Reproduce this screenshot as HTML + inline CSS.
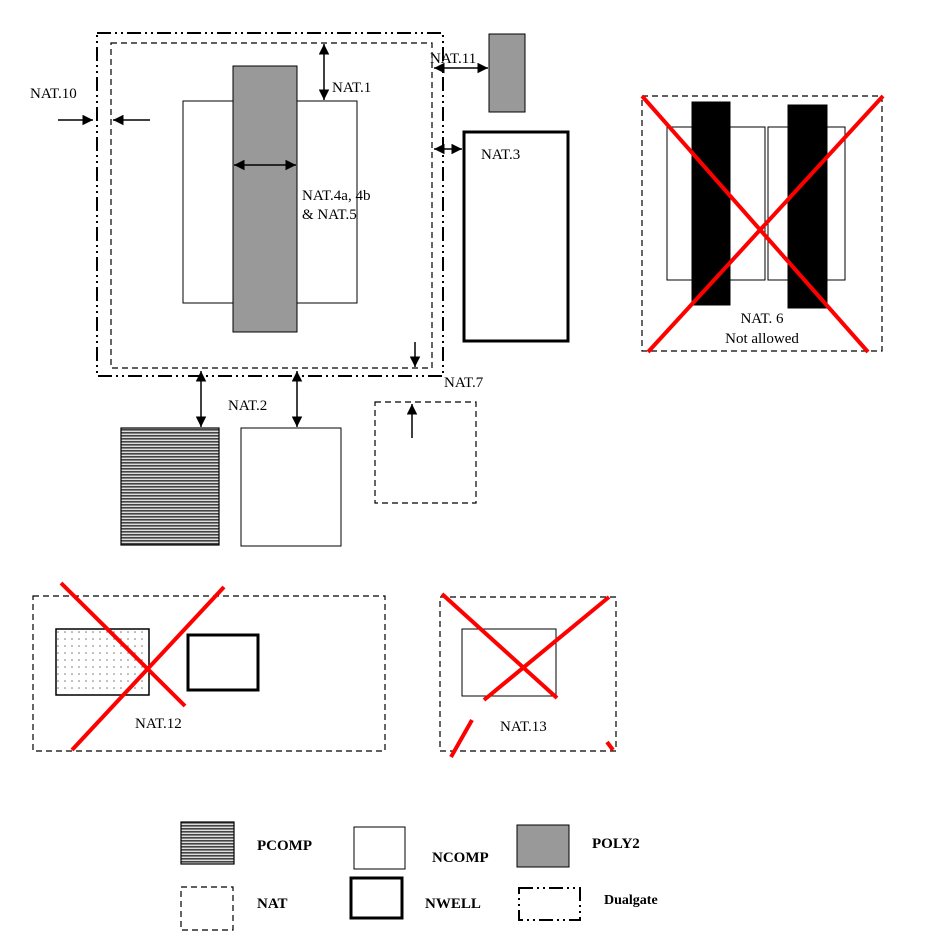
<!DOCTYPE html>
<html><head><meta charset="utf-8"><style>html,body{margin:0;padding:0;background:#fff}svg{display:block}text{font-family:"Liberation Serif",serif;font-size:15px;fill:#000}.b{font-weight:bold;font-size:15px}</style></head><body>
<svg width="942" height="943" viewBox="0 0 942 943" xmlns="http://www.w3.org/2000/svg">
<defs>
<marker id="a" viewBox="0 0 10 10" refX="10" refY="5" markerWidth="7" markerHeight="7" orient="auto-start-reverse"><path d="M0,0L10,5L0,10z" fill="#000"/></marker>
<pattern id="h" width="4" height="3" patternUnits="userSpaceOnUse"><rect width="4" height="3" fill="#ddd"/><rect width="4" height="1.6" fill="#444"/></pattern>
<pattern id="d" width="7" height="7" patternUnits="userSpaceOnUse"><rect width="7" height="7" fill="#fff"/><circle cx="2" cy="2" r="0.8" fill="#777"/></pattern>
</defs>
<g fill="none" stroke="#000">
<rect x="97" y="33" width="346" height="343" stroke-width="2" stroke-dasharray="14,4,2,4,2,4"/>
<rect x="111" y="43" width="321" height="325" stroke-width="1.2" stroke-dasharray="6,4"/>
<rect x="183" y="101" width="174" height="202" fill="#fff"/>
<rect x="233" y="66" width="64" height="266" fill="#999"/>
<line x1="324" y1="44" x2="324" y2="100" stroke-width="1.5" marker-start="url(#a)" marker-end="url(#a)"/>
<line x1="234" y1="165" x2="296" y2="165" stroke-width="1.5" marker-start="url(#a)" marker-end="url(#a)"/>
<line x1="58" y1="120" x2="93" y2="120" stroke-width="1.5" marker-end="url(#a)"/>
<line x1="150" y1="120" x2="113" y2="120" stroke-width="1.5" marker-end="url(#a)"/>
<rect x="489" y="34" width="36" height="78" fill="#999"/>
<line x1="434" y1="68" x2="488" y2="68" stroke-width="1.5" marker-start="url(#a)" marker-end="url(#a)"/>
<rect x="464" y="132" width="104" height="209" stroke-width="3"/>
<line x1="434" y1="149" x2="462" y2="149" stroke-width="1.5" marker-start="url(#a)" marker-end="url(#a)"/>
<line x1="415" y1="342" x2="415" y2="367" stroke-width="1.5" marker-end="url(#a)"/>
<rect x="375" y="402" width="101" height="101" stroke-width="1.2" stroke-dasharray="6,4"/>
<line x1="412" y1="438" x2="412" y2="404" stroke-width="1.5" marker-end="url(#a)"/>
<rect x="121" y="428" width="98" height="117" fill="url(#h)" stroke-width="1.2"/>
<rect x="241" y="428" width="100" height="118"/>
<line x1="201" y1="371" x2="201" y2="427" stroke-width="1.5" marker-start="url(#a)" marker-end="url(#a)"/>
<line x1="297" y1="371" x2="297" y2="427" stroke-width="1.5" marker-start="url(#a)" marker-end="url(#a)"/>
<rect x="642" y="96" width="240" height="255" stroke-width="1.2" stroke-dasharray="6,4"/>
<rect x="667" y="127" width="98" height="153"/>
<rect x="768" y="127" width="77" height="153"/>
<rect x="692" y="102" width="38" height="203" fill="#000"/>
<rect x="788" y="105" width="39" height="203" fill="#000"/>
<rect x="33" y="596" width="352" height="155" stroke-width="1.2" stroke-dasharray="6,4"/>
<rect x="56" y="629" width="93" height="66" fill="url(#d)" stroke-width="1.5"/>
<rect x="188" y="635" width="70" height="55" stroke-width="3"/>
<rect x="440" y="597" width="176" height="154" stroke-width="1.2" stroke-dasharray="6,4"/>
<rect x="462" y="629" width="94" height="67"/>
<rect x="181" y="822" width="53" height="42" fill="url(#h)" stroke-width="1.2"/>
<rect x="354" y="827" width="51" height="42"/>
<rect x="517" y="825" width="52" height="42" fill="#999"/>
<rect x="181" y="887" width="52" height="43" stroke-width="1.2" stroke-dasharray="6,4"/>
<rect x="351" y="878" width="51" height="40" stroke-width="3"/>
<rect x="519" y="888" width="61" height="32" stroke-width="2" stroke-dasharray="14,4,2,4,2,4"/>
</g>
<g stroke="#f00" stroke-width="4" fill="none">
<line x1="642" y1="96" x2="868" y2="352"/><line x1="883" y1="96" x2="648" y2="352"/>
<line x1="61" y1="583" x2="185" y2="706"/><line x1="224" y1="587" x2="72" y2="750"/>
<line x1="442" y1="594" x2="557" y2="698"/><line x1="609" y1="597" x2="484" y2="700"/>
<line x1="472" y1="720" x2="451" y2="757"/><line x1="607" y1="742" x2="613" y2="750"/>
</g>
<text x="30" y="98">NAT.10</text>
<text x="332" y="92">NAT.1</text>
<text x="430" y="63">NAT.11</text>
<text x="481" y="159">NAT.3</text>
<text x="302" y="200">NAT.4a, 4b</text>
<text x="302" y="219">&amp; NAT.5</text>
<text x="444" y="387">NAT.7</text>
<text x="228" y="410">NAT.2</text>
<text x="762" y="323" text-anchor="middle">NAT. 6</text>
<text x="762" y="343" text-anchor="middle">Not allowed</text>
<text x="135" y="728">NAT.12</text>
<text x="500" y="731">NAT.13</text>
<text class="b" x="257" y="850">PCOMP</text>
<text class="b" x="432" y="862">NCOMP</text>
<text class="b" x="592" y="848">POLY2</text>
<text class="b" x="257" y="908">NAT</text>
<text class="b" x="425" y="908">NWELL</text>
<text class="b" x="604" y="904" style="font-size:14px">Dualgate</text>
</svg>
</body></html>
